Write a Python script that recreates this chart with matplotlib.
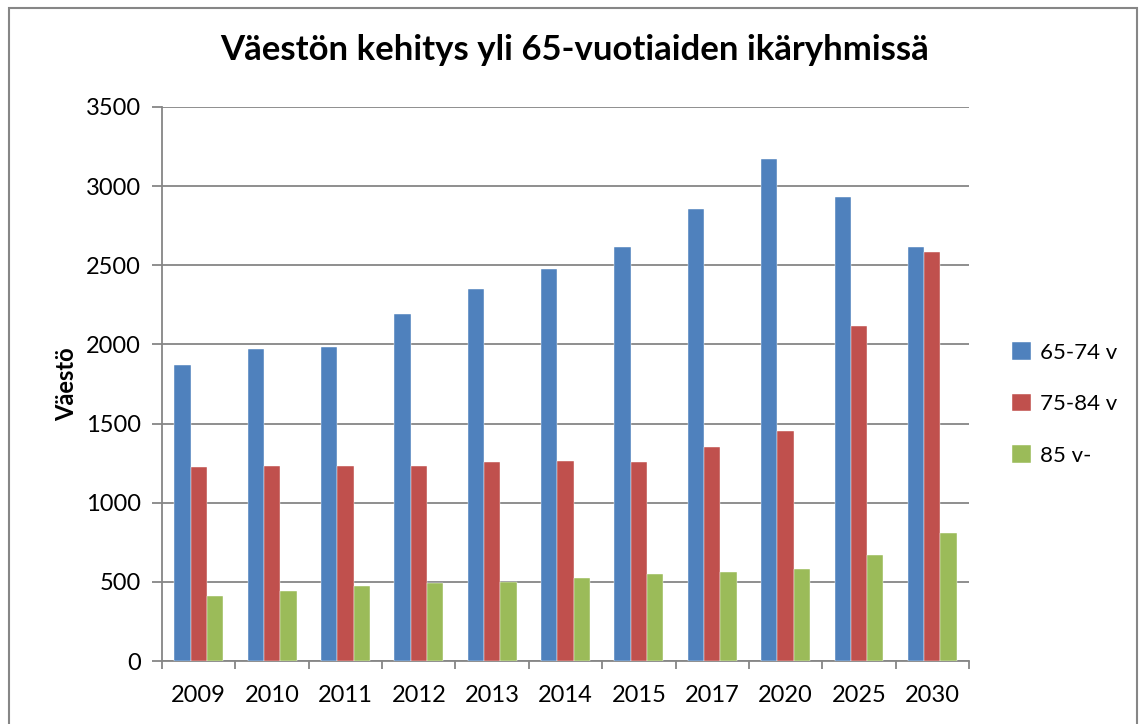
import numpy as np
import matplotlib
matplotlib.use("Agg")
import matplotlib.pyplot as plt
from matplotlib.patches import Rectangle

# ---- data ----
years = ['2009', '2010', '2011', '2012', '2013', '2014', '2015', '2017', '2020', '2025', '2030']
age_65_74 = [1870, 1971, 1982, 2192, 2348, 2478, 2617, 2855, 3173, 2929, 2613]
age_75_84 = [1224, 1234, 1232, 1232, 1255, 1261, 1257, 1350, 1455, 2116, 2586]
age_85 = [413, 442, 474, 491, 501, 522, 550, 562, 583, 668, 809]
series_names = ['65-74 v', '75-84 v', '85 v-']

colors = ['#4F81BD', '#C0504D', '#9BBB59']
grid_c = '#868686'

plt.rcParams['font.family'] = ['Lato', 'DejaVu Sans']

fig = plt.figure(figsize=(11.41, 7.24), dpi=100)
W, H = 1141, 724
ax = fig.add_axes([162 / W, 1 - 661 / H, (969 - 162) / W, (661 - 107) / H])

# chart border (bottom edge falls outside the image)
fig.patches.append(Rectangle((9 / W, -0.05), (1137 - 9) / W, 1.05 - 8 / H,
                             transform=fig.transFigure, fill=False,
                             edgecolor=grid_c, linewidth=1.5))

x = np.arange(len(years))
bw = 1 / 4.5
for i, (vals, name) in enumerate(zip([age_65_74, age_75_84, age_85], series_names)):
    ax.bar(x + (i - 1) * bw, vals, width=bw, color=colors[i], label=name,
           edgecolor='white', linewidth=0.3, zorder=3)

ax.set_xlim(-0.5, len(years) - 0.5)
ax.set_ylim(0, 3500)
ax.set_yticks(range(0, 3501, 500))
ax.yaxis.grid(True, color=grid_c, linewidth=1.3, zorder=0)
ax.set_axisbelow(True)

ax.set_xticks(x)
ax.set_xticklabels(years, fontsize=17)
ax.set_xticks(np.arange(-0.5, len(years)), minor=True)
ax.tick_params(axis='x', which='major', length=0, pad=17)
ax.tick_params(axis='x', which='minor', length=6, width=1.3, color=grid_c, direction='out')
ax.tick_params(axis='y', length=7, width=1.3, color=grid_c, direction='out',
               labelsize=17, pad=8)

for s in ['top', 'right']:
    ax.spines[s].set_visible(False)
for s in ['left', 'bottom']:
    ax.spines[s].set_color(grid_c)
    ax.spines[s].set_linewidth(1.3)

ax.set_ylabel('Väestö', fontsize=17, fontweight='bold', labelpad=6)
fig.text(575 / W, 1 - 50 / H, 'Väestön kehitys yli 65-vuotiaiden ikäryhmissä',
         ha='center', va='center', fontsize=25, fontweight='bold')

leg = ax.legend(loc='center left', bbox_to_anchor=(992 / W, 1 - 404 / H),
                bbox_transform=fig.transFigure, frameon=False, fontsize=16,
                handlelength=0.85, handleheight=0.85, labelspacing=1.4,
                handletextpad=0.4)

fig.savefig('out.png', dpi=100)
